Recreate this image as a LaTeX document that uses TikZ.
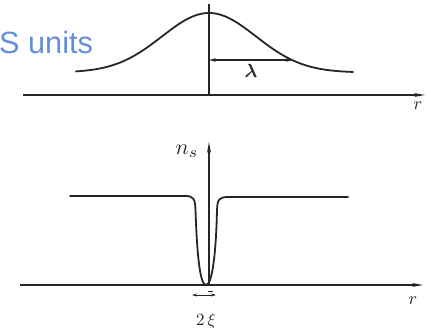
\documentclass[tikz,border=0pt]{standalone}
\usepackage{amsmath}
\usepackage{fontspec}
\newfontfamily\arialfont{Liberation Sans}
\usetikzlibrary{arrows.meta}
\definecolor{unitblue}{RGB}{98,142,218}
\tikzset{
  axis/.style={line width=1.4pt, draw=black!85},
  axisarrow/.style={axis, -{Stealth[length=11pt,width=4pt]}},
  curve/.style={line width=1.8pt, draw=black!85, line cap=round},
  lbl/.style={inner sep=0pt, text=black!85},
}
\begin{document}
\begin{tikzpicture}[x=1pt,y=-1pt]
\useasboundingbox (0,0) rectangle (431,328);
% ---------- top panel ----------
\coordinate (tax0) at (23,95);
\coordinate (tax1) at (425,95);
\coordinate (tv0) at (209,95);
\coordinate (tv1) at (209,4);
\draw[axisarrow] (tax0) -- (tax1);
\draw[axis] (tv0) -- (tv1);
\draw[curve, domain=76:353, samples=120, smooth]
  plot (\x, {72.5 - 59.5*exp(-0.5*((\x-209)/47)^2)});
\coordinate (la0) at (209,60);
\coordinate (la1) at (293,60);
\draw[line width=1.1pt, black!85, {Stealth[length=7pt,width=3.5pt]}-{Stealth[length=7pt,width=3.5pt]}] (la0) -- (la1);
\node[lbl, scale=1.9] (lam) at (251,71) {$\boldsymbol{\lambda}$};
\node[lbl, scale=1.8] (rtop) at (418,106) {$r$};
\node[anchor=base west, inner sep=0pt, text=unitblue, font=\arialfont\fontsize{30.7}{36}\selectfont] (units) at (-1,54) {S units};
% ---------- bottom panel ----------
\coordinate (bax0) at (20,285);
\coordinate (bax1) at (423,285);
\coordinate (bv0) at (209,285);
\coordinate (bv1) at (209,142);
\draw[axisarrow] (bax0) -- (bax1);
\draw[axisarrow] (bv0) -- (bv1);
\draw[curve] (70,196) -- (185,196)
  .. controls (194,196) and (195,199) .. (195.5,210)
  .. controls (197,255) and (200,285) .. (206,285)
  .. controls (212,285) and (216,255) .. (217,210)
  .. controls (217.5,199) and (219,197) .. (229,197)
  -- (348,197);
\node[lbl, scale=2.2] (ns) at (187,151) {$n_s$};
\node[lbl, scale=1.8] (rbot) at (413,301) {$r$};
\coordinate (xi0) at (192,295);
\coordinate (xi1) at (216,295);
\draw[line width=0.9pt, black!85, {Stealth[length=5pt,width=3pt]}-{Stealth[length=5pt,width=3pt]}] (xi0) -- (xi1);
\coordinate (tk0) at (207.5,291);
\coordinate (tk1) at (212.5,291);
\draw[line width=0.9pt, black!85] (tk0) -- (tk1);
\node[lbl, scale=1.7] (xi) at (206,321) {$2\,\xi$};
\end{tikzpicture}
\end{document}
